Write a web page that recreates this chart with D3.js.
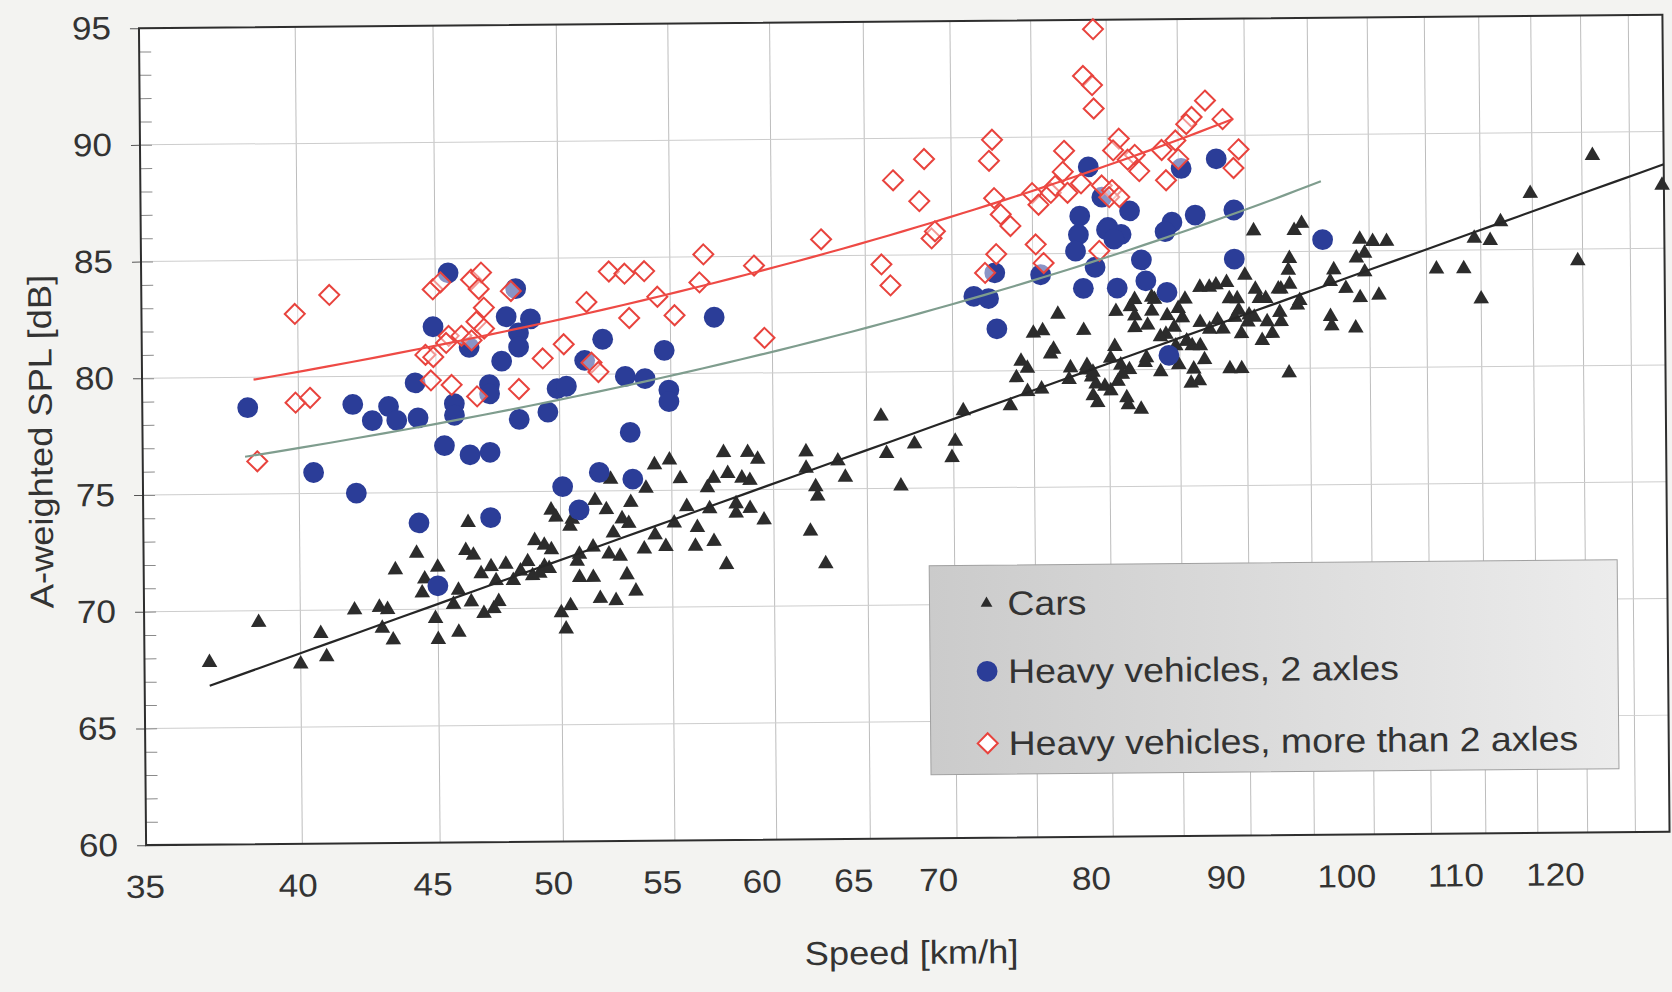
<!DOCTYPE html>
<html><head><meta charset="utf-8">
<script src="https://cdn.jsdelivr.net/npm/d3@7"></script>
<style>
html,body{margin:0;padding:0;background:#f3f3f1;}
svg{display:block;}
text{font-family:"Liberation Sans", Arial, Helvetica, sans-serif;fill:#333;}
</style></head><body>
<svg id="chart" width="1672" height="992"></svg>
<script>
// ---------- data (speed km/h, A-weighted SPL dB) ----------
const cars = [
[37.0,67.8],[38.6,69.5],[40.0,67.7],[40.7,69.0],[40.9,68.0],[41.9,70.0],[42.8,70.1],[43.1,70.0],[42.9,69.2],[43.3,68.7],
[43.4,71.7],[44.2,72.4],[44.5,71.3],[44.4,70.7],[45.0,71.8],[44.9,69.6],[45.0,68.7],[45.8,70.8],[45.6,70.2],[45.8,69.0],
[46.3,70.3],[46.7,71.5],[47.1,71.8],[47.3,71.2],[46.8,69.8],[47.2,70.0],[47.4,70.3],[47.7,71.9],[48.0,71.2],[48.3,71.6],
[48.6,72.0],[48.8,71.4],[49.1,71.5],[49.3,71.8],[46.2,73.7],[46.1,72.5],[46.4,72.3],[48.9,72.9],[49.3,72.7],[49.6,74.2],
[49.8,73.9],[50.5,73.8],[50.4,73.5],[51.4,72.6],[52.1,72.3],[52.6,72.2],[50.8,72.3],[50.7,72.0],[49.6,72.5],[49.5,71.7],
[52.9,71.4],[50.8,71.3],[51.4,71.3],[53.3,70.7],[51.7,70.4],[52.4,70.3],[50.4,70.1],[50.0,69.8],[50.2,69.1],
[52.2,75.5],[51.5,74.6],[52.0,74.2],[53.1,74.5],[52.7,73.8],[53.0,73.6],[52.3,73.2],[54.9,76.3],[54.2,76.1],[55.4,75.5],
[53.8,75.1],[55.7,74.3],[55.1,73.6],[56.2,73.4],[54.2,73.1],[53.7,72.5],[54.7,72.6],[56.1,72.6],[57.5,76.6],[58.7,76.6],
[59.2,76.3],[57.7,75.7],[58.4,75.5],[58.8,75.4],[57.0,75.5],[56.7,75.1],[58.1,74.4],[58.8,74.2],[58.1,74.0],[59.5,73.7],
[56.8,74.2],[57.0,72.8],[57.6,71.8],[61.7,76.6],[61.7,75.9],[62.2,75.1],[62.3,74.7],[61.9,73.2],[62.7,71.8],[63.4,76.2],
[63.8,75.5],[65.8,78.1],[67.7,76.9],[66.1,76.5],[66.9,75.1],[70.1,77.0],[69.9,76.3],[70.6,78.3],
[76.6,82.4],[75.0,81.6],[75.6,81.7],[78.3,81.7],[76.3,80.9],[76.1,80.7],[74.2,80.4],[74.6,80.1],[73.9,79.7],[77.4,80.1],
[77.3,79.6],[78.5,80.2],[78.4,80.0],[78.8,79.7],[78.9,78.9],[74.6,79.1],[75.5,79.2],[73.5,78.5],
[110.0,82.9],[100.8,83.1],[99.2,83.0],[98.0,83.4],[96.7,82.2],[96.8,81.8],[98.8,81.7],[94.0,82.7],[93.3,79.8],[92.6,82.4],
[92.7,82.0],[91.6,82.0],[91.2,81.2],[92.0,81.5],[91.0,83.0],[90.2,82.3],[90.6,82.2],[89.6,81.5],[89.4,82.5],[89.1,82.2],
[88.7,83.0],[89.3,83.0],[90.1,82.0],[86.5,83.5],[87.7,83.6],[87.8,82.1],[87.2,81.7],[88.2,81.7],[86.5,82.0],[85.9,81.0],
[86.5,81.0],[85.5,81.2],[86.8,80.4],[86.0,80.0],[86.4,79.5],[85.8,79.4],[84.9,80.2],[88.7,80.0],[89.6,80.0],[83.6,79.9],
[84.9,82.6],[85.2,82.2],[84.6,81.8],[84.0,81.5],[83.6,81.4],[84.7,81.0],[85.5,81.2],[84.1,82.3],[83.0,83.1],[81.5,82.7],
[81.8,82.3],[82.7,81.9],[81.8,81.8],[80.5,82.5],[83.0,82.5],[80.4,81.0],[80.1,80.5],[80.8,80.2],[82.6,80.5],[82.5,80.3],
[81.4,80.0],[80.9,79.8],[80.6,79.5],[78.9,79.9],[79.1,79.4],[79.7,79.3],[80.1,79.1],[79.2,78.6],[81.2,78.8],[81.3,78.5],
[82.2,78.3],
[121.1,89.0],[128.5,87.7],[114.8,87.4],[111.9,86.2],[109.4,85.5],[110.9,85.4],[119.5,84.5],[105.9,84.2],[108.4,84.2],
[99.2,85.5],[100.3,85.4],[101.5,85.4],[98.9,84.7],[99.6,84.9],[99.6,84.1],[97.0,84.2],[96.7,83.7],[94.4,86.2],[93.8,85.9],
[90.6,85.9],[93.4,84.7],[93.3,84.2],[93.4,83.6],[92.7,83.4],[89.9,84.0],[88.5,83.7],[87.2,83.5],[90.7,83.4],[91.5,83.0],
[92.5,83.4],[94.2,82.9],[81.8,83.0],[83.2,83.0],[85.4,83.0]
];
const heavy2 = [
[38.3,78.7],[40.5,75.9],[41.9,78.8],[42.0,75.0],[42.6,78.1],[43.2,78.7],[43.5,78.1],[44.3,78.2],[44.2,79.7],[44.3,73.7],
[44.9,82.1],[45.0,71.0],[45.3,77.0],[45.5,84.4],[45.7,78.8],[45.7,78.3],[46.3,81.2],[46.3,76.6],[47.1,79.6],[47.1,79.2],
[47.1,76.7],[47.1,73.9],[47.6,80.6],[47.8,82.5],[48.2,83.7],[48.3,81.8],[48.3,81.2],[48.3,78.1],[48.8,82.4],[49.5,78.4],
[49.9,79.4],[50.3,79.5],[50.1,75.2],[50.8,74.2],[51.1,80.6],[51.7,75.8],[51.9,81.5],[52.9,79.9],[53.1,77.5],[53.2,75.5],
[53.8,79.8],[54.7,81.0],[54.9,79.3],[54.9,78.8],[57.1,82.4],
[71.3,83.2],[72.2,83.1],[72.7,81.8],[72.6,84.2],[75.5,84.1],[78.3,83.5],[78.1,86.6],[78.0,85.8],[77.8,85.1],[78.7,88.7],
[79.6,87.4],[81.5,86.8],[80.0,86.1],[80.9,85.8],[79.9,86.0],[80.4,85.6],[84.5,86.3],[84.0,85.9],[86.2,86.6],[89.1,86.8],
[96.1,85.5],[82.3,84.7],[79.1,84.4],[89.1,84.7],[80.6,83.5],[82.6,83.8],[84.1,83.3],[85.2,88.6],[87.8,89.0],[84.2,80.6]
];
const heavy3 = [
[38.6,76.4],[39.9,78.9],[40.4,79.1],[39.9,82.7],[41.1,83.5],[44.9,83.7],[45.2,84.0],[46.4,84.1],[46.8,84.4],[46.7,83.7],
[48.0,83.6],[46.9,82.9],[46.6,82.3],[46.9,82.0],[45.5,81.7],[46.0,81.7],[45.4,81.4],[46.4,81.5],[44.6,80.9],[44.9,80.8],
[44.8,79.8],[45.6,79.6],[46.6,79.1],[48.3,79.4],[49.3,80.7],[50.2,81.3],[51.2,83.1],[51.4,80.5],[51.7,80.1],[52.2,84.4],
[52.9,84.3],[53.8,84.4],[53.1,82.4],[54.4,83.3],[55.2,82.5],[56.4,83.9],[56.6,85.1],[59.1,84.6],[59.6,81.5],[62.6,85.7],
[65.9,84.6],[66.4,83.7],[66.6,88.2],[68.1,87.3],[68.4,89.1],[68.8,85.7],[69.0,86.0],[72.5,89.9],[72.3,89.0],[72.6,87.4],
[73.0,86.7],[73.6,86.2],[72.7,85.0],[72.0,84.2],[75.2,85.4],[75.7,84.6],[75.0,87.6],[75.4,87.1],[76.2,87.6],[76.5,87.9],
[77.0,88.5],[77.1,89.4],[77.3,87.6],[78.2,88.0],[79.1,94.6],[78.4,92.6],[79.0,92.2],[79.1,91.2],[79.4,85.1],[87.0,91.5],
[86.0,90.8],[85.6,90.5],[88.3,90.7],[80.8,89.9],[80.4,89.4],[81.9,89.2],[81.4,89.0],[83.8,89.4],[84.8,89.8],[85.0,89.0],
[82.2,88.5],[84.1,88.1],[89.5,89.4],[89.1,88.6],[79.6,87.9],[80.3,87.7],[80.1,87.4],[80.8,87.4]
];
// trend lines (end points)
const carsTrendSpeed = [37.0, 128.7];
const carsTrendLevel = [66.8, 88.6];
const heavy2TrendSpeed = [38.2, 96.0];
const heavy2TrendLevel = [76.6, 88.0];
const heavy3TrendSpeed = [38.5, 89.1];
const heavy3TrendLevel = [79.9, 90.7];
// axes
const xTickValues = [35,40,45,50,55,60,65,70,80,90,100,110,120];
const xGridValues = [40,45,50,55,60,65,70,75,80,85,90,95,100,105,110,115,120,125];
const yTickValues = [60,65,70,75,80,85,90,95];
const yGridValues = [65,70,75,80,85,90];
const legendLabels = ["Cars","Heavy vehicles, 2 axles","Heavy vehicles, more than 2 axles"];
const xTitle = "Speed [km/h]";
const yTitle = "A-weighted SPL [dB]";

// ---------- drawing ----------
const svg = d3.select("#chart");
const plot = {left:142.5, right:1666, top:21.5, bottom:838.5};
const x = d3.scaleLog().domain([35,128.7]).range([plot.left, plot.right]);
const xLab = d3.scaleLog().domain([35,120]).range([141,1551]);
const y = d3.scaleLinear().domain([60,95]).range([plot.bottom, plot.top]);

svg.append("rect").attr("width",1672).attr("height",992).attr("fill","#f3f3f1");
const defs = svg.append("defs");
const grad = defs.append("linearGradient").attr("id","lg").attr("x1","0").attr("x2","1").attr("y1","0").attr("y2","0");
grad.append("stop").attr("offset","0").attr("stop-color","#cbcbcb");
grad.append("stop").attr("offset","1").attr("stop-color","#ececec");

const root = svg.append("g").attr("transform","rotate(-0.5 904 430)");

root.append("rect").attr("x",plot.left).attr("y",plot.top)
  .attr("width",plot.right-plot.left).attr("height",plot.bottom-plot.top).attr("fill","#ffffff");

// grid
root.append("g").selectAll("line").data(xGridValues).join("line")
  .attr("x1",d=>x(d)).attr("x2",d=>x(d)).attr("y1",plot.top).attr("y2",plot.bottom)
  .attr("stroke","#bdbdbd").attr("stroke-width",1);
root.append("g").selectAll("line").data(yGridValues).join("line")
  .attr("x1",plot.left).attr("x2",plot.right).attr("y1",d=>y(d)).attr("y2",d=>y(d))
  .attr("stroke","#cdcdcd").attr("stroke-width",1);

// minor y ticks (inside)
const minor = root.append("g").attr("transform",`translate(${plot.left},0)`)
  .call(d3.axisLeft(y).tickValues(d3.range(61,95)).tickSize(-12).tickFormat(()=>""));
minor.select(".domain").remove();
minor.selectAll("line").attr("stroke","#8a8a8a");

// y axis
const ya = root.append("g").attr("transform",`translate(${plot.left},0)`)
  .call(d3.axisLeft(y).tickValues(yTickValues).tickSize(9));
ya.select(".domain").remove();
ya.selectAll("line").attr("stroke","#555");
ya.selectAll("text").attr("x",-25.5).attr("transform","scale(1.1,1)")
  .style("font-size","32px").attr("fill","#333");

// x axis labels
const xa = root.append("g").attr("transform",`translate(0,${plot.bottom})`)
  .call(d3.axisBottom(xLab).tickValues(xTickValues).tickSize(0).tickPadding(30).tickFormat(d3.format("d")));
xa.select(".domain").remove();
xa.selectAll("text").attr("transform","scale(1.1,1)").style("font-size","32px").attr("fill","#333");

// border
root.append("rect").attr("x",plot.left).attr("y",plot.top)
  .attr("width",plot.right-plot.left).attr("height",plot.bottom-plot.top)
  .attr("fill","none").attr("stroke","#2e2e2e").attr("stroke-width",2);

// symbols
const tri = d3.symbol().type(d3.symbolTriangle).size(105);
const circ = d3.symbol().type(d3.symbolCircle).size(340);
const diamond = "M0,-10L10,0L0,10L-10,0Z";

root.append("g").selectAll("path").data(cars).join("path")
  .attr("d",tri).attr("transform",d=>`translate(${x(d[0])},${y(d[1])})`)
  .attr("fill","#2c2c2c");
root.append("g").selectAll("path").data(heavy2).join("path")
  .attr("d",circ).attr("transform",d=>`translate(${x(d[0])},${y(d[1])})`)
  .attr("fill","#2b3d98");
root.append("g").selectAll("path").data(heavy3).join("path")
  .attr("d",diamond).attr("transform",d=>`translate(${x(d[0])},${y(d[1])})`)
  .attr("fill","#ffffff").attr("fill-opacity",0.45).attr("stroke","#e8433d").attr("stroke-width",2);

// trend lines
const line = d3.line().x(d=>x(d[0])).y(d=>y(d[1]));
function linTrend(s,l){ // linear in speed
  const n=60, pts=[];
  for(let i=0;i<=n;i++){const v=s[0]+(s[1]-s[0])*i/n; pts.push([v, l[0]+(l[1]-l[0])*(v-s[0])/(s[1]-s[0])]);}
  return pts;
}
function logTrend(s,l){ // linear in log(speed)
  const n=60, pts=[];
  for(let i=0;i<=n;i++){const v=s[0]*Math.pow(s[1]/s[0],i/n); pts.push([v, l[0]+(l[1]-l[0])*Math.log(v/s[0])/Math.log(s[1]/s[0])]);}
  return pts;
}
root.append("path").attr("d",line(logTrend(carsTrendSpeed,carsTrendLevel)))
  .attr("fill","none").attr("stroke","#262626").attr("stroke-width",2.2);
root.append("path").attr("d",line(linTrend(heavy2TrendSpeed,heavy2TrendLevel)))
  .attr("fill","none").attr("stroke","#7f9d8e").attr("stroke-width",2.2);
root.append("path").attr("d",line(linTrend(heavy3TrendSpeed,heavy3TrendLevel)))
  .attr("fill","none").attr("stroke","#ee4a45").attr("stroke-width",2.2);

// legend
const lg = root.append("g");
lg.append("rect").attr("x",928).attr("y",566).attr("width",688).attr("height",209)
  .attr("fill","url(#lg)").attr("stroke","#a0a0a0").attr("stroke-width",1);
const rowY = [604,672,744];
const items = lg.selectAll("g").data(legendLabels).join("g")
  .attr("transform",(d,i)=>`translate(985,${rowY[i]})`);
items.each(function(d,i){
  const g=d3.select(this);
  if(i===0) g.append("path").attr("d",d3.symbol().type(d3.symbolTriangle).size(60)).attr("fill","#2c2c2c");
  if(i===1) g.append("path").attr("d",circ).attr("fill","#2b3d98");
  if(i===2) g.append("path").attr("d",diamond).attr("fill","#ffffff").attr("stroke","#e8433d").attr("stroke-width",2);
  g.append("text").attr("transform","translate(21,12) scale(1.1,1)")
    .style("font-size","34px").attr("fill","#333").text(d);
});

// titles
root.append("text").attr("transform","translate(907,964) scale(1.1,1)")
  .attr("text-anchor","middle").style("font-size","33px").attr("fill","#333").text(xTitle);
root.append("text").attr("transform","translate(52,434) rotate(-90) scale(1.1,1)")
  .attr("text-anchor","middle").style("font-size","33px").attr("fill","#333").text(yTitle);
</script>
</body></html>
